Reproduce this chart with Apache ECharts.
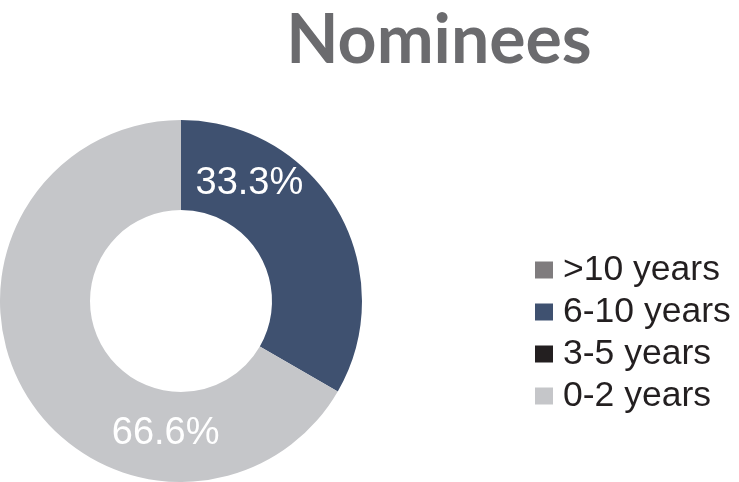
<!DOCTYPE html>
<html>
<head>
<meta charset="utf-8">
<style>html,body{margin:0;padding:0;background:#fff;}#c{width:739px;height:482px;}</style>
<script src="https://cdn.jsdelivr.net/npm/echarts@6/dist/echarts.min.js"></script>
</head>
<body>
<div id="c"></div>
<script>
var titleText = 'Nominees';
var categories = ['>10 years', '6-10 years', '3-5 years', '0-2 years'];
var values = [0, 33.3, 0, 66.6];
var colors = ['#7f7c7e', '#3f5170', '#231f20', '#c5c6c9'];
var labelOffsets = [[0, 0], [-52, -48], [0, 0], [105, 63]];

var chart = echarts.init(document.getElementById('c'));
chart.setOption({
  animation: false,
  title: {
    text: titleText,
    left: 434,
    textAlign: 'center',
    top: 2,
    textStyle: { fontFamily: 'Lato', fontWeight: 'bold', fontSize: 68, color: '#6b6b6e', lineHeight: 68 }
  },
  legend: {
    orient: 'vertical',
    left: 530,
    top: 247,
    icon: 'rect',
    itemWidth: 18,
    itemHeight: 17,
    itemGap: 6,
    selectedMode: false,
    data: categories,
    textStyle: { fontFamily: 'Liberation Sans', fontSize: 35.5, color: '#231f20', lineHeight: 35, padding: [0, 0, 0, 5] }
  },
  series: [{
    type: 'pie',
    center: [181, 301],
    radius: [91, 181],
    startAngle: 90,
    clockwise: true,
    avoidLabelOverlap: false,
    labelLine: { show: false },
    emphasis: { disabled: true },
    data: categories.map(function (c, i) {
      return {
        name: c,
        value: values[i],
        itemStyle: { color: colors[i] },
        label: {
          show: values[i] > 0,
          position: 'inside',
          offset: labelOffsets[i],
          formatter: function (p) { return p.value + '%'; },
          color: '#ffffff',
          fontFamily: 'Liberation Sans',
          fontSize: 38,
          textBorderWidth: 0
        }
      };
    })
  }]
});
</script>
</body>
</html>
